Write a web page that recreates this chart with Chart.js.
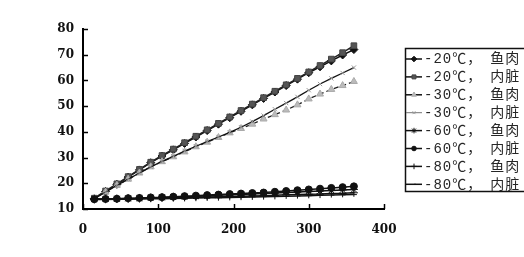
<!DOCTYPE html>
<html>
<head>
<meta charset="utf-8">
<script src="https://cdn.jsdelivr.net/npm/chart.js@4/dist/chart.umd.min.js"></script>
<style>
html,body{margin:0;padding:0;background:#fff;overflow:hidden;}
#wrap{width:524px;height:257px;position:relative;}
</style>
</head>
<body>
<div id="wrap"><canvas id="c" width="524" height="257"></canvas></div>
<script>
const xValues = [15,30,45,60,75,90,105,120,135,150,165,180,195,210,225,240,255,270,285,300,315,330,345,360];
const seriesLabels = ['-20℃，　鱼肉','-20℃，　内脏','-30℃，　鱼肉','-30℃，　内脏','-60℃，　鱼肉','-60℃，　内脏','-80℃，　鱼肉','-80℃，　内脏'];
const fish20 = [14,16.8,19.6,22.4,25.2,28,30.6,33,35.5,38,40.5,43,45.5,48,50.5,53,55.5,58,60.5,63,65.3,67.6,69.9,72];
const organ20 = [14.2,17,19.8,22.6,25.4,28.2,30.8,33.3,35.8,38.3,40.8,43.3,45.8,48.3,50.8,53.3,55.8,58.3,60.8,63.3,65.8,68.3,70.8,73.5];
const fish30 = [14,16.6,19.2,21.6,24,26.4,28.4,30.3,32.2,34.2,36,37.8,39.6,41.3,43,45,46.7,48.5,50.5,52.8,54.7,56.5,58,59.6];
const organ30 = [14,16.6,19.2,21.6,24,26.4,28.5,30.5,32.5,34.4,36.2,38,39.8,41.8,44,46.3,48.8,51.2,53.6,56.2,58.6,60.8,62.9,65];
const fish60 = [13.8,13.9,14.0,14.1,14.2,14.4,14.5,14.7,14.8,15.0,15.1,15.3,15.5,15.6,15.8,16.0,16.2,16.4,16.6,16.8,17.0,17.2,17.4,17.6];
const organ60 = [13.8,13.9,14.0,14.2,14.3,14.5,14.6,14.8,15.0,15.2,15.4,15.6,15.8,16.0,16.2,16.4,16.7,17.0,17.3,17.6,17.9,18.2,18.5,18.8];
const fish80 = [13.8,13.8,13.9,14.0,14.1,14.2,14.3,14.4,14.5,14.6,14.7,14.8,14.9,15.0,15.1,15.2,15.3,15.5,15.6,15.7,15.8,16.0,16.1,16.3];
const organ80 = [13.7,13.7,13.8,13.8,13.9,14.0,14.0,14.1,14.2,14.3,14.4,14.4,14.5,14.6,14.7,14.8,14.9,15.0,15.1,15.2,15.3,15.4,15.5,15.6];
const xTicks = [0,100,200,300,400];
const yTicks = [10,20,30,40,50,60,70,80];

const allSeries = [fish20, organ20, fish30, organ30, fish60, organ60, fish80, organ80];
const styles = [
  {pointStyle:'rectRot', radius:4, fill:'#111', stroke:'#111', line:'#111', lw:1.5, dash:[]},
  {pointStyle:'rect', radius:4, fill:'#555', stroke:'#444', line:'#222', lw:1.5, dash:[]},
  {pointStyle:'triangle', radius:4, fill:'#bbb', stroke:'#aaa', line:'#222', lw:1.3, dash:[5,3]},
  {pointStyle:'crossRot', radius:3, fill:'#999', stroke:'#999', line:'#111', lw:1.3, dash:[]},
  {pointStyle:'star', radius:4, fill:'#111', stroke:'#111', line:'#111', lw:1.5, dash:[]},
  {pointStyle:'circle', radius:3.5, fill:'#111', stroke:'#111', line:'#111', lw:1.5, dash:[]},
  {pointStyle:'cross', radius:4, fill:'#111', stroke:'#111', line:'#111', lw:1.5, dash:[]},
  {pointStyle:'dash', radius:3, fill:'#111', stroke:'#111', line:'#111', lw:1.5, dash:[]}
];

const datasets = allSeries.map((vals, i) => ({
  label: seriesLabels[i],
  data: vals.map((v, j) => ({x: xValues[j], y: v})),
  borderColor: styles[i].line,
  borderWidth: styles[i].lw,
  borderDash: styles[i].dash,
  backgroundColor: styles[i].fill,
  pointStyle: styles[i].pointStyle,
  pointRadius: styles[i].radius,
  pointBorderColor: styles[i].stroke,
  pointBackgroundColor: styles[i].fill,
  pointBorderWidth: 1,
  tension: 0,
  fill: false
})).reverse();

const innerTicks = {
  id: 'innerTicks',
  afterDatasetsDraw(chart) {
    const ctx = chart.ctx, xs = chart.scales.x, ys = chart.scales.y;
    const a = chart.chartArea;
    ctx.save();
    ctx.strokeStyle = '#000';
    ctx.lineWidth = 1.5;
    yTicks.forEach(v => {
      const y = Math.round(ys.getPixelForValue(v)) + 0.5;
      ctx.beginPath(); ctx.moveTo(a.left, y); ctx.lineTo(a.left + 5, y); ctx.stroke();
    });
    xTicks.forEach(v => {
      const x = Math.round(xs.getPixelForValue(v)) + 0.5;
      ctx.beginPath(); ctx.moveTo(x, a.bottom); ctx.lineTo(x, a.bottom - 5); ctx.stroke();
    });
    ctx.restore();
  }
};

const boxLegend = {
  id: 'boxLegend',
  afterDraw(chart) {
    const ctx = chart.ctx;
    const left = 405.5, top = 48.5, w = 200, h = 143;
    ctx.save();
    ctx.strokeStyle = '#111';
    ctx.lineWidth = 1.5;
    ctx.strokeRect(left, top, w, h);
    const n = seriesLabels.length;
    for (let i = 0; i < n; i++) {
      const st = styles[i];
      const y = 59 + i * 17.9;
      ctx.save();
      ctx.strokeStyle = i === 3 ? '#777' : '#111';
      ctx.lineWidth = i === 3 ? 1 : 1.5;
      ctx.beginPath(); ctx.moveTo(406, y); ctx.lineTo(422, y); ctx.stroke();
      ctx.fillStyle = st.fill;
      ctx.strokeStyle = st.stroke;
      ctx.lineWidth = 1;
      const r = Math.max(2, st.radius - 1.2);
      if (Chart.helpers && Chart.helpers.drawPoint) {
        Chart.helpers.drawPoint(ctx, {pointStyle: st.pointStyle, radius: r, borderWidth: 1, rotation: 0}, 414, y);
      } else {
        ctx.beginPath(); ctx.arc(414, y, r, 0, Math.PI * 2); ctx.fill();
      }
      ctx.restore();
      ctx.save();
      ctx.fillStyle = '#262626';
      ctx.font = '14px "Liberation Mono", "Noto Sans CJK SC", monospace';
      if ('letterSpacing' in ctx) ctx.letterSpacing = '1px';
      ctx.textBaseline = 'middle';
      ctx.textAlign = 'left';
      ctx.fillText(seriesLabels[i], 424, y + 0.5);
      ctx.restore();
    }
    ctx.restore();
  }
};

new Chart(document.getElementById('c'), {
  type: 'line',
  data: {datasets},
  options: {
    responsive: false,
    animation: false,
    devicePixelRatio: 1,
    layout: {padding: {top: 29, right: 140, bottom: 0, left: 0}},
    plugins: {legend: {display: false}, tooltip: {enabled: false}},
    scales: {
      x: {
        type: 'linear', min: 0, max: 400,
        afterFit(s) { s.height = 48; },
        afterBuildTicks(s) { s.ticks = xTicks.map(v => ({value: v})); },
        grid: {display: false, drawTicks: false},
        border: {display: true, color: '#000', width: 2},
        ticks: {padding: 14, color: '#111', font: {family: '"DejaVu Serif", serif', size: 12, weight: 'bold'}, maxRotation: 0}
      },
      y: {
        type: 'linear', min: 10, max: 80,
        afterFit(s) { s.width = 83; },
        afterBuildTicks(s) { s.ticks = yTicks.map(v => ({value: v})); },
        grid: {display: false, drawTicks: false},
        border: {display: true, color: '#000', width: 2},
        ticks: {padding: 9, color: '#111', font: {family: '"DejaVu Serif", serif', size: 12, weight: 'bold'}}
      }
    }
  },
  plugins: [innerTicks, boxLegend]
});
</script>
</body>
</html>
